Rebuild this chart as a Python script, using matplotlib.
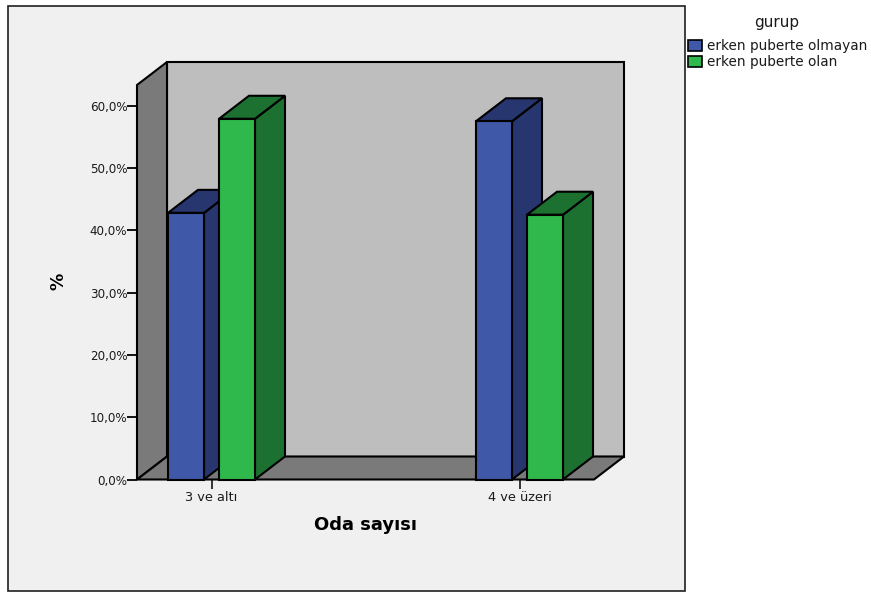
import matplotlib

matplotlib.use("Agg")
import matplotlib.pyplot as plt
from matplotlib.patches import Patch, Rectangle

# ---------------- DATA ----------------
CATEGORIES = ["3 ve altı", "4 ve üzeri"]
SERIES_NAMES = ["erken puberte olmayan", "erken puberte olan"]
NOT_EARLY = [42.8, 57.5]
EARLY = [57.9, 42.5]
Y_TICKS = [0, 10, 20, 30, 40, 50, 60]

# ---------------- STYLE ----------------
WIDTH, HEIGHT = 871, 592
FRONT_COLORS = ["#3f58a8", "#2fb84c"]
SIDE_COLORS = ["#27366e", "#1c7030"]
WALL_BACK = "#bebebe"
WALL_SIDE = "#7a7a7a"
PANEL = "#f0f0f0"
EDGE = 1.5

plt.rcParams["font.family"] = ["DejaVu Sans"]

# plot area in pixels, and the scales that follow from it
X0, X1, Y0, Y1 = 137, 594, 479.5, 85
PX_PER_CAT = 308
PX_PER_PCT = 6.23
X_MIN = (X0 - 211.5) / PX_PER_CAT
X_MAX = (X1 - 211.5) / PX_PER_CAT
Y_MAX = (Y0 - Y1) / PX_PER_PCT
DEPTH_X = 30 / PX_PER_CAT
DEPTH_Y = 23 / PX_PER_PCT
BAR_W = 36 / PX_PER_CAT
BAR_OFFSET = 25.5 / PX_PER_CAT


def poly(ax, xs, ys, color, lw=EDGE):
    """Draw one closed face of the 3D look."""
    ax.fill(xs, ys, facecolor=color, edgecolor="black", linewidth=lw,
            clip_on=False, joinstyle="miter")


def bar3d(ax, x, value, front, side):
    """Draw a bar with its top and side faces."""
    left, right = x - BAR_W / 2, x + BAR_W / 2
    poly(ax, [right, right + DEPTH_X, right + DEPTH_X, right],
         [0, DEPTH_Y, value + DEPTH_Y, value], side)
    poly(ax, [left, right, right + DEPTH_X, left + DEPTH_X],
         [value, value, value + DEPTH_Y, value + DEPTH_Y], side)
    poly(ax, [left, right, right, left], [0, 0, value, value], front)


def main() -> None:
    fig = plt.figure(figsize=(WIDTH / 100, HEIGHT / 100), dpi=100, facecolor="white")
    fig.add_artist(Rectangle((8 / WIDTH, 1 - 591 / HEIGHT), 677 / WIDTH, 585 / HEIGHT,
                             transform=fig.transFigure, facecolor=PANEL,
                             edgecolor="#202020", linewidth=1.2, zorder=-1))

    ax = fig.add_axes([X0 / WIDTH, 1 - Y0 / HEIGHT, (X1 - X0) / WIDTH, (Y0 - Y1) / HEIGHT])
    ax.set_xlim(X_MIN, X_MAX)
    ax.set_ylim(0, Y_MAX)
    ax.patch.set_visible(False)
    for spine in ax.spines.values():
        spine.set_visible(False)

    # walls and floor
    poly(ax, [X_MIN + DEPTH_X, X_MAX + DEPTH_X, X_MAX + DEPTH_X, X_MIN + DEPTH_X],
         [DEPTH_Y, DEPTH_Y, Y_MAX + DEPTH_Y, Y_MAX + DEPTH_Y], WALL_BACK)
    poly(ax, [X_MIN, X_MIN + DEPTH_X, X_MIN + DEPTH_X, X_MIN],
         [0, DEPTH_Y, Y_MAX + DEPTH_Y, Y_MAX], WALL_SIDE)
    poly(ax, [X_MIN, X_MAX, X_MAX + DEPTH_X, X_MIN + DEPTH_X],
         [0, 0, DEPTH_Y, DEPTH_Y], WALL_SIDE)

    for i in range(len(CATEGORIES)):
        bar3d(ax, i - BAR_OFFSET, NOT_EARLY[i], FRONT_COLORS[0], SIDE_COLORS[0])
        bar3d(ax, i + BAR_OFFSET, EARLY[i], FRONT_COLORS[1], SIDE_COLORS[1])

    ax.set_xticks(range(len(CATEGORIES)), CATEGORIES)
    ax.set_yticks(Y_TICKS, [f"{v},0%" for v in Y_TICKS])
    ax.tick_params(axis="y", length=7, width=1.3, labelsize=8.6, pad=0, labelcolor="#1a1a1a")
    ax.tick_params(axis="x", length=6.5, width=1.1, labelsize=9.3, pad=2, labelcolor="#1a1a1a")

    fig.text(365 / WIDTH, 1 - 525 / HEIGHT, "Oda sayısı", fontsize=13, fontweight="bold",
             ha="center", va="center")
    fig.text(59 / WIDTH, 1 - 281 / HEIGHT, "%", fontsize=12.5, fontweight="bold",
             rotation=90, ha="center", va="center")

    # legend entries, with the heading placed on its own above them
    fig.text(777 / WIDTH, 1 - 23 / HEIGHT, "gurup", fontsize=11, color="#1a1a1a",
             ha="center", va="center")
    handles = [Patch(facecolor=c, edgecolor="black", linewidth=1.2) for c in FRONT_COLORS]
    fig.legend(handles, SERIES_NAMES, loc="upper left",
               bbox_to_anchor=(687.5 / WIDTH, 1 - 39 / HEIGHT), frameon=False,
               fontsize=9.8, labelcolor="#1a1a1a", handlelength=1.1, handleheight=0.88,
               handletextpad=0.3, labelspacing=0.18, borderpad=0, borderaxespad=0)

    fig.savefig("out.png", dpi=100)


if __name__ == "__main__":
    main()
